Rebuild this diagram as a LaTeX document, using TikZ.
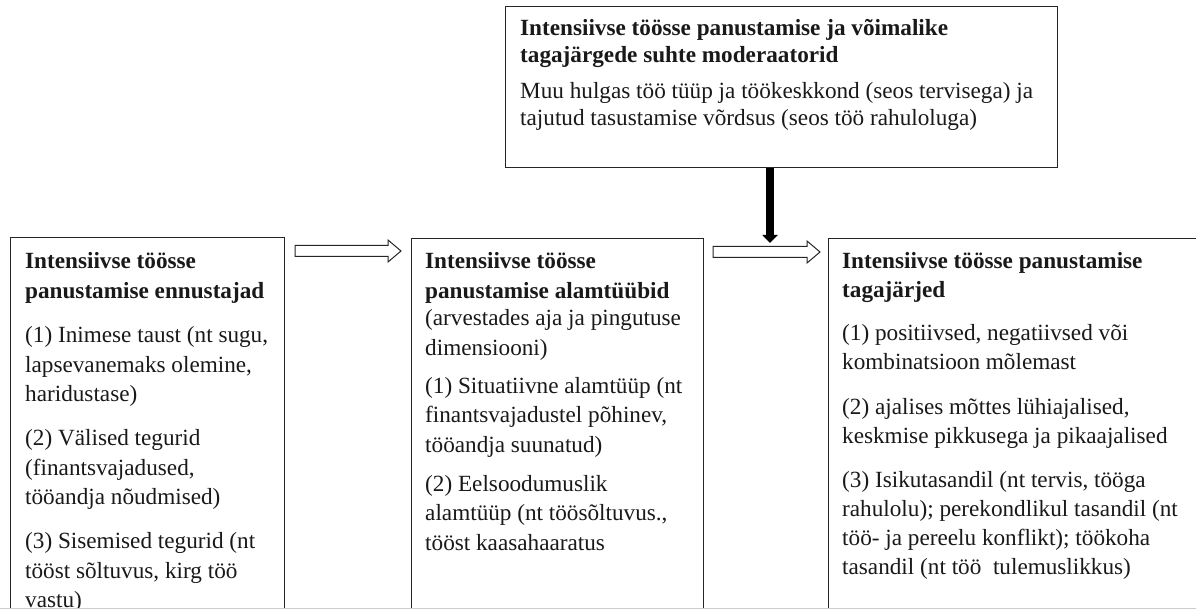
\documentclass[tikz,border=0pt]{standalone}
\usepackage{fontspec}
\setmainfont{Liberation Serif}
\usetikzlibrary{arrows.meta,calc}
\tikzset{
  boxst/.style={draw=black!85, line width=1.3pt, inner sep=0pt, anchor=north west},
  txt/.style={inner sep=0pt, anchor=base west, text=black!90,
    font=\fontsize{23.2}{29.5}\selectfont},
  txtr/.style={txt, font=\fontsize{23.2}{29}\selectfont},
  txttop/.style={txt, font=\fontsize{23.2}{26.5}\selectfont},
  blockarr/.style={draw=black!85, line width=1pt, fill=white, line join=miter},
  thickarr/.style={draw=black, line width=8pt, -{Triangle[width=15pt,length=8pt]}}
}
\newcommand\mkblockarrow[2]{%
  \draw[blockarr] ($(#1)+(0,-5.5)$) -- ($(#2)+(-13,-5.5)$) -- ($(#2)+(-13,-11)$)
    -- (#2) -- ($(#2)+(-13,11)$) -- ($(#2)+(-13,5.5)$) -- ($(#1)+(0,5.5)$) -- cycle;}
\begin{document}
\begin{tikzpicture}[x=1pt,y=-1pt]
\useasboundingbox (0,0) rectangle (1196,609);
\clip (0,0) rectangle (1196,609);
\fill[white] (0,0) rectangle (1196,609);

% boxes
\node[boxst, minimum width=552pt, minimum height=161pt] (mod) at (505,6) {};
\node[boxst, minimum width=274pt, minimum height=400pt] (pred) at (10,237) {};
\node[boxst, minimum width=292pt, minimum height=400pt] (sub) at (411,238) {};
\node[boxst, minimum width=420pt, minimum height=400pt] (cons) at (828,238) {};

% top box text
\node[txttop] (mod-t) at (520,36) {\vtop{\hbox{\bfseries Intensiivse töösse panustamise ja võimalike}\hbox{\bfseries tagajärgede suhte moderaatorid}}};
\node[txttop] (mod-b) at (520,99) {\vtop{\hbox{Muu hulgas töö tüüp ja töökeskkond (seos tervisega) ja}\hbox{tajutud tasustamise võrdsus (seos töö rahuloluga)}}};

% left box text
\node[txt] (pred-t) at (25,269) {\vtop{\hbox{\bfseries Intensiivse töösse}\hbox{\bfseries panustamise ennustajad}}};
\node[txt] (pred-1) at (25,342.5) {\vtop{\hbox{(1) Inimese taust (nt sugu,}\hbox{lapsevanemaks olemine,}\hbox{haridustase)}}};
\node[txt] (pred-2) at (25,445.5) {\vtop{\hbox{(2) Välised tegurid}\hbox{(finantsvajadused,}\hbox{tööandja nõudmised)}}};
\node[txt] (pred-3) at (25,548.5) {\vtop{\hbox{(3) Sisemised tegurid (nt}\hbox{tööst sõltuvus, kirg töö}\hbox{vastu)}}};

% middle box text
\node[txt] (sub-t) at (425,269) {\vtop{\hbox{\bfseries Intensiivse töösse}\hbox{\bfseries panustamise alamtüübid}}};
\node[txt] (sub-d) at (425,326) {\vtop{\hbox{(arvestades aja ja pingutuse}\hbox{dimensiooni)}}};
\node[txt] (sub-1) at (425,393) {\vtop{\hbox{(1) Situatiivne alamtüüp (nt}\hbox{finantsvajadustel põhinev,}\hbox{tööandja suunatud)}}};
\node[txt] (sub-2) at (425,491) {\vtop{\hbox{(2) Eelsoodumuslik}\hbox{alamtüüp (nt töösõltuvus.,}\hbox{tööst kaasahaaratus}}};

% right box text
\node[txtr] (cons-t) at (842,269) {\vtop{\hbox{\bfseries Intensiivse töösse panustamise}\hbox{\bfseries tagajärjed}}};
\node[txtr] (cons-1) at (842,341) {\vtop{\hbox{(1) positiivsed, negatiivsed või}\hbox{kombinatsioon mõlemast}}};
\node[txtr] (cons-2) at (842,414) {\vtop{\hbox{(2) ajalises mõttes lühiajalised,}\hbox{keskmise pikkusega ja pikaajalised}}};
\node[txtr] (cons-3) at (842,487) {\vtop{\hbox{(3) Isikutasandil (nt tervis, tööga}\hbox{rahulolu); perekondlikul tasandil (nt}\hbox{töö- ja pereelu konflikt); töökoha}\hbox{tasandil (nt töö~ tulemuslikkus)}}};

% connectors
\coordinate (a1tail) at (295,251);
\coordinate (a1tip) at (401,251);
\coordinate (a2tail) at (713,252);
\coordinate (a2tip) at (820,252);
\coordinate (vtip) at (770,243);
\mkblockarrow{a1tail}{a1tip}
\mkblockarrow{a2tail}{a2tip}
\draw[thickarr] (mod.south -| vtip) -- (vtip);

\draw[black!20, line width=1pt] (0,608.5) -- (1196,608.5);
\end{tikzpicture}
\end{document}
